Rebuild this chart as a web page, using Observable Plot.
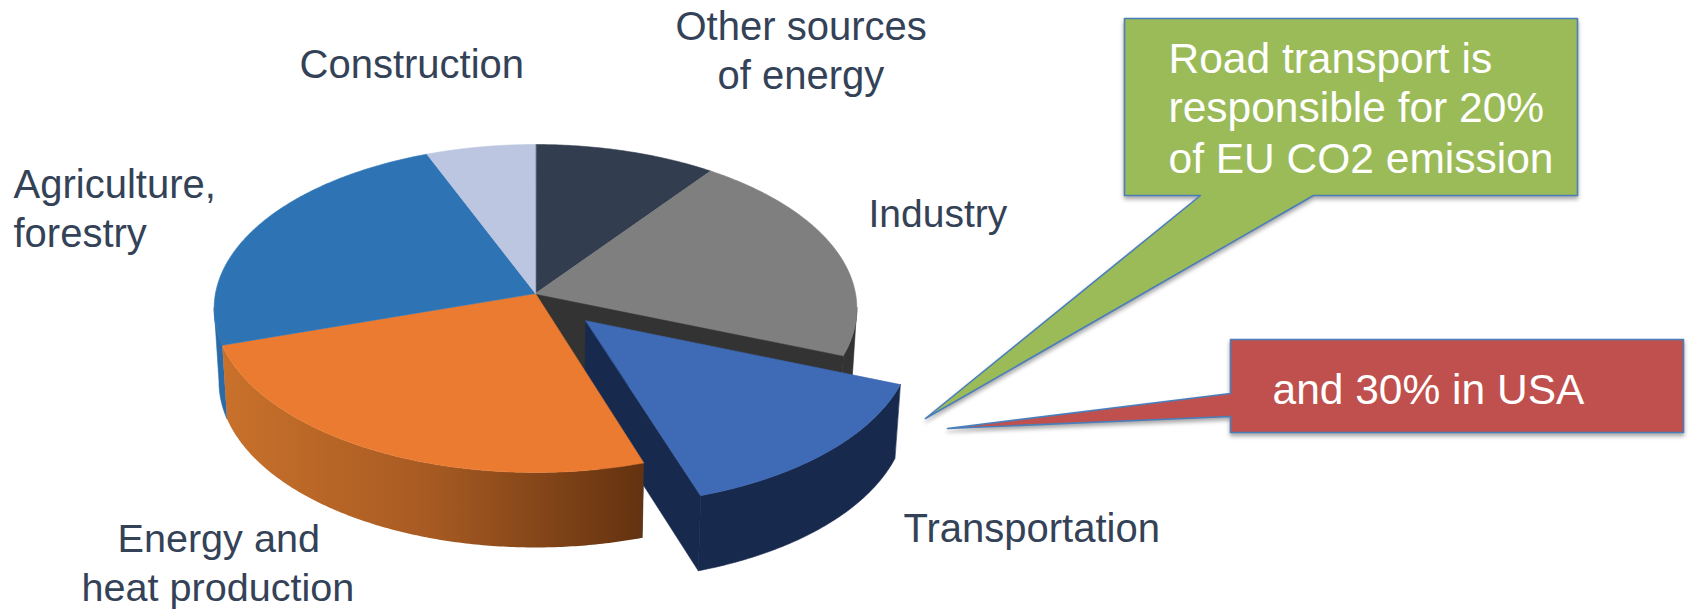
<!DOCTYPE html>
<html>
<head>
<meta charset="utf-8">
<script src="https://cdn.jsdelivr.net/npm/d3@7"></script>
<script src="https://cdn.jsdelivr.net/npm/@observablehq/plot@0.6"></script>
<style>
  html, body { margin: 0; padding: 0; background: #fff; }
  svg { display: block; }
</style>
</head>
<body>
<div id="chart"></div>
<script>
// Global greenhouse gas emissions by sector, in percent, clockwise from 12 o'clock.
const sectors = ["Other sources of energy", "Industry", "Transportation", "Energy and heat production", "Agriculture, forestry", "Construction"];
const shares = [10, 21, 14, 25, 24, 6];
const topColors = ["#323e4f", "#7f7f7f", "#3e6ab6", "#ea7b30", "#2e74b5", "#bcc6e1"];

// Sector captions, one entry per line of text.
const captionLines = ["Other sources", "of energy", "Construction", "Agriculture,", "forestry", "Industry", "Energy and", "heat production", "Transportation"];
const captionX = [675, 717, 299, 13, 13, 868, 117, 81, 903];
const captionY = [27, 75.5, 65, 185, 234, 214, 539, 588, 529];
const captionSize = [40, 40, 40, 40, 40, 39, 39.6, 39.6, 40];

// Callout boxes with their pointed tails.
const greenLines = ["Road transport is", "responsible for 20%", "of EU CO2 emission"];
const greenLineY = [59, 108, 158.5];
const greenOutline = [[1124, 18], [1577, 18], [1577, 195], [1313, 195], [925, 418], [1200, 195], [1124, 195]];
const redLines = ["and 30% in USA"];
const redOutline = [[1230, 339], [1683, 339], [1683, 432], [1230, 432], [1230, 416], [947, 428], [1230, 393]];

// Perspective model of the tilted disc.
const width = 1688, height = 610;
const disc = {cx: 535, cy: 293, rx: 320, ry: 162.6, k: 0.0915, shrink: 0.985};
const explodedSector = "Transportation";
const explodeBy = 0.226;
const degrees = d => d * Math.PI / 180;

function project(u, v, lower = false) {
  const w = 1 / (1 - disc.k * v);
  const s = lower ? disc.shrink : 1;
  return {
    x: disc.cx + disc.rx * u * w * s,
    y: disc.cy + disc.ry * v * w + (lower ? 73 + 2 * v : 0)
  };
}

const pieData = d3.pie().sort(null).startAngle(0).endAngle(2 * Math.PI)(shares).map((d, i) => {
  const mid = (d.startAngle + d.endAngle) / 2;
  const off = sectors[i] === explodedSector ? explodeBy : 0;
  return {name: sectors[i], color: topColors[i], a0: d.startAngle, a1: d.endAngle,
          ou: off * Math.sin(mid), ov: -off * Math.cos(mid)};
});

const arcPoints = (s, from, to, lower) => {
  const n = Math.max(2, Math.ceil(Math.abs(to - from) / 0.01));
  return d3.range(n + 1).map(j => {
    const a = from + (to - from) * j / n;
    return project(s.ou + Math.sin(a), s.ov - Math.cos(a), lower);
  });
};
const hub = (s, lower) => project(s.ou, s.ov, lower);
const rim = (s, a, lower) => project(s.ou + Math.sin(a), s.ov - Math.cos(a), lower);

const topFace = s => [hub(s), ...arcPoints(s, s.a0, s.a1, false)];
const rimWall = (s, a0 = s.a0, a1 = s.a1) => [...arcPoints(s, a0, a1, false), ...arcPoints(s, a1, a0, true)];
const cutFace = (s, a) => [hub(s), rim(s, a), rim(s, a, true), hub(s, true)];

// A filled outline drawn through the x and y scales.
const shape = (points, fill, extra = {}) =>
  Plot.line(points, {x: "x", y: "y", curve: "linear-closed", fill, stroke: fill, strokeWidth: 0.6, ...extra});

const [other, industry, transport, energy, agri, construction] = pieData;
const navy = "#172a4d", dark = "#333333";

// Side wall shading of the energy slice.
const wallGradient = () => {
  const defs = d3.create("svg:defs");
  const g = defs.append("linearGradient").attr("id", "energyWall");
  [[0, "#c9712b"], [0.5, "#a65a22"], [1, "#633210"]].forEach(([o, c]) =>
    g.append("stop").attr("offset", o).attr("stop-color", c));
  return defs.node();
};

const toPoints = list => list.map(([x, y]) => ({x, y}));
const shadow = "drop-shadow(0px 3px 2px rgba(0,0,0,0.35))";
const calloutFont = {fontFamily: "Liberation Sans", fontSize: 42.5, fill: "white", textAnchor: "start"};

const chart = Plot.plot({
  width, height,
  margin: 0,
  x: {domain: [0, width], range: [0, width], axis: null},
  y: {domain: [0, height], range: [0, height], axis: null},
  marks: [
    wallGradient,
    // walls and cut faces, back to front; each wall stops at the disc's silhouette
    shape(rimWall(industry, degrees(95), industry.a1), dark),
    shape(rimWall(agri, agri.a0, degrees(265)), "#2a6aa6"),
    shape(cutFace(industry, industry.a1), dark),
    shape(cutFace(energy, energy.a0), dark),
    shape(cutFace(transport, transport.a1), navy),
    shape(rimWall(transport), navy),
    shape(rimWall(energy), "url(#energyWall)", {stroke: "none"}),
    // top faces
    ...pieData.map(s => shape(topFace(s), s.color)),
    // sector captions
    Plot.text(captionLines, {
      x: (d, i) => captionX[i], y: (d, i) => captionY[i], text: d => d,
      fontSize: (d, i) => captionSize[i],
      textAnchor: "start", fontFamily: "Liberation Sans", fill: "#344257"
    }),
    // callouts
    shape(toPoints(greenOutline), "#9bbb59", {stroke: "#4a7ebb", strokeWidth: 1.6, imageFilter: shadow}),
    Plot.text(greenLines, {x: () => 1168, y: (d, i) => greenLineY[i], text: d => d, ...calloutFont}),
    shape(toPoints(redOutline), "#c0504d", {stroke: "#4a7ebb", strokeWidth: 1.6, imageFilter: shadow}),
    Plot.text(redLines, {x: () => 1272, y: () => 390, text: d => d, ...calloutFont})
  ]
});
document.getElementById("chart").append(chart);
</script>
</body>
</html>
